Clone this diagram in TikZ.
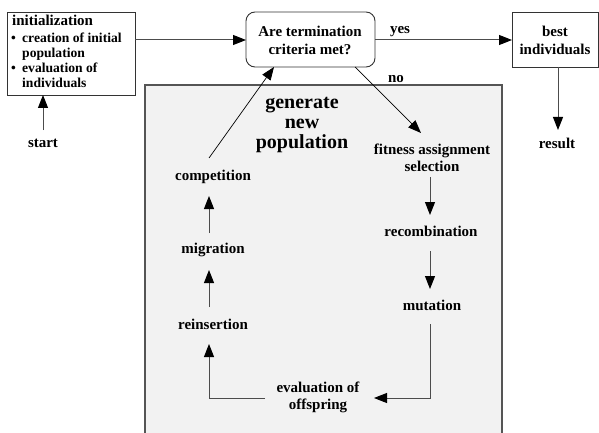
\documentclass[tikz,border=0pt]{standalone}
\usepackage{fontspec}
\setmainfont{Liberation Serif}
\usetikzlibrary{arrows.meta}
\definecolor{boxgray}{HTML}{F2F2F2}
\definecolor{edgegray}{HTML}{555555}
\tikzset{
  lbl/.style={font=\fontsize{15}{17}\selectfont\bfseries, inner sep=0pt, align=center},
  small/.style={font=\fontsize{13.6}{15}\selectfont\bfseries, inner sep=0pt, anchor=mid west},
  big/.style={font=\fontsize{20}{20}\selectfont\bfseries, inner sep=0pt, align=center},
  frame/.style={draw=black!80, line width=0.9pt},
  flow/.style={draw=black!70, line width=1pt, -{Triangle[length=13pt,width=10pt,color=black]}},
  thin/.style={draw=black, line width=0.7pt, -{Triangle[length=13pt,width=10pt]}},
  plain/.style={draw=black!75, line width=1pt},
}
\begin{document}
\begin{tikzpicture}[x=1pt,y=-1pt]
\useasboundingbox (0,0) rectangle (599,433);
% gray region
\fill[boxgray] (145,85) rectangle (502,440);
\draw[edgegray, line width=1.3pt] (145,440) -- (145,85) -- (502,85) -- (502,440);
% init box
\node[frame, minimum width=128pt, minimum height=83pt, inner sep=0pt, anchor=north west] (init) at (7,12) {};
\node[lbl, anchor=mid west] (tinit) at (12,23) {initialization};
\node[small] (b1) at (11,40) {\textbullet};
\node[small] (l1) at (22,40) {creation of initial};
\node[small] (l2) at (22,55) {population};
\node[small] (b2) at (11,70) {\textbullet};
\node[small] (l3) at (22,70) {evaluation of};
\node[small] (l4) at (22,85) {individuals};
\node[lbl] (start) at (43,143) {start};
% termination
\node[frame, rounded corners=9pt, minimum width=129pt, minimum height=55pt, inner sep=0pt] (term) at (310.5,39.5) {};
\node[lbl] (tterm) at (310,40.5) {Are termination\\[1pt]criteria met?};
% best
\node[frame, minimum width=86pt, minimum height=55pt, inner sep=0pt] (best) at (555,39.5) {};
\node[lbl] (tbest) at (555,40) {best\\[1pt]individuals};
\node[lbl] (result) at (557,143) {result};
% labels
\node[lbl] (yes) at (400,32) {yes};
\node[lbl] (no) at (396,79) {no};
\node[big] (gen) at (302,125) {generate\\new\\population};
% loop nodes
\node[lbl] (fit) at (432,158) {fitness assignment\\selection};
\node[lbl] (rec) at (431,231) {recombination};
\node[lbl] (mut) at (432,305) {mutation};
\node[lbl] (eva) at (318,397) {evaluation of\\offspring};
\node[lbl] (rei) at (213,324) {reinsertion};
\node[lbl] (mig) at (213,250) {migration};
\node[lbl] (com) at (213,177) {competition};
% coordinates
\coordinate (c1) at (43,130);
\coordinate (c2) at (43,95);
\coordinate (ir) at (135,40);
\coordinate (tl) at (246,40);
\coordinate (tr) at (375,40);
\coordinate (bl) at (512,40);
\coordinate (bb) at (558,67);
\coordinate (rt) at (558,130);
\coordinate (nos) at (355,67);
\coordinate (noe) at (421,133);
\coordinate (cs) at (209,158);
\coordinate (ce) at (274,67);
\coordinate (f1) at (430,177);
\coordinate (f2) at (430,215);
\coordinate (r1) at (430,251);
\coordinate (r2) at (430,289);
\coordinate (m1) at (430,324);
\coordinate (m2) at (430,398);
\coordinate (e1) at (374,398);
\coordinate (e2) at (265,398);
\coordinate (e3) at (209,398);
\coordinate (re1) at (209,344);
\coordinate (re2) at (209,307);
\coordinate (mi1) at (209,270);
\coordinate (mi2) at (209,233);
\coordinate (co1) at (209,196);
% connectors
\draw[flow] (c1) -- (c2);
\draw[flow] (ir) -- (tl);
\draw[flow] (tr) -- (bl);
\draw[flow] (bb) -- (rt);
\draw[thin] (nos) -- (noe);
\draw[thin] (cs) -- (ce);
\draw[flow] (f1) -- (f2);
\draw[flow] (r1) -- (r2);
\draw[flow] (m1) -- (m2) -- (e1);
\draw[flow] (e2) -- (e3) -- (re1);
\draw[flow] (re2) -- (mi1);
\draw[flow] (mi2) -- (co1);
\end{tikzpicture}
\end{document}
